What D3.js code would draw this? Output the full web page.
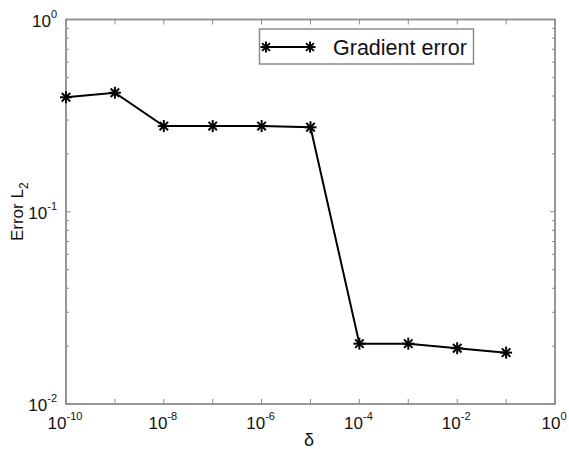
<!DOCTYPE html>
<html>
<head>
<meta charset="utf-8">
<script src="https://cdn.jsdelivr.net/npm/d3@7"></script>
<style>
	body { margin: 0; background: #fff; }
	text { font-family: "Liberation Sans", Arial, sans-serif; fill: #111; }
</style>
</head>
<body>
<svg width="569" height="449"></svg>
<script>
// values
const deltas = [1e-10, 1e-9, 1e-8, 1e-7, 1e-6, 1e-5, 1e-4, 1e-3, 1e-2, 1e-1];
const gradError = [0.394, 0.416, 0.279, 0.279, 0.279, 0.275, 0.0206, 0.0206, 0.0195, 0.0185];
const xTickExp = [-10, -8, -6, -4, -2, 0];
const yTickExp = [-2, -1, 0];
const seriesName = "Gradient error";

const svg = d3.select("svg");
const plotLeft = 66, plotRight = 555, plotTop = 19.5, plotBottom = 404;
const axisColor = "#8c8c8c";

const x = d3.scaleLog().domain([1e-10, 1]).range([plotLeft, plotRight]);
const y = d3.scaleLog().domain([1e-2, 1]).range([plotBottom, plotTop]);

// box
svg.append("rect")
	.attr("x", plotLeft)
	.attr("y", plotTop)
	.attr("width", plotRight - plotLeft)
	.attr("height", plotBottom - plotTop)
	.attr("fill", "none")
	.attr("stroke", axisColor)
	.attr("stroke-width", 1.8);

// x ticks, every decade, inward at top and bottom
const xDecades = d3.range(-10, 1).map((e) => Math.pow(10, e));
svg.append("g")
	.selectAll("line")
	.data(xDecades)
	.join("line")
	.attr("x1", (d) => x(d))
	.attr("x2", (d) => x(d))
	.attr("y1", plotBottom)
	.attr("y2", plotBottom - 5)
	.attr("stroke", axisColor);
svg.append("g")
	.selectAll("line")
	.data(xDecades)
	.join("line")
	.attr("x1", (d) => x(d))
	.attr("x2", (d) => x(d))
	.attr("y1", plotTop)
	.attr("y2", plotTop + 5)
	.attr("stroke", axisColor);

// y ticks incl. minor ones
const yTicks = y.ticks();
const isMajor = (d) => Math.abs(Math.log10(d) - Math.round(Math.log10(d))) < 1e-9;
svg.append("g")
	.selectAll("line")
	.data(yTicks)
	.join("line")
	.attr("x1", plotLeft)
	.attr("x2", (d) => plotLeft + (isMajor(d) ? 5 : 3))
	.attr("y1", (d) => y(d))
	.attr("y2", (d) => y(d))
	.attr("stroke", axisColor);
svg.append("g")
	.selectAll("line")
	.data(yTicks)
	.join("line")
	.attr("x1", plotRight)
	.attr("x2", (d) => plotRight - (isMajor(d) ? 5 : 3))
	.attr("y1", (d) => y(d))
	.attr("y2", (d) => y(d))
	.attr("stroke", axisColor);

// tick labels with superscripts
function powLabel(g, e) {
	g.append("tspan").text("10");
	g.append("tspan")
		.attr("dy", -9)
		.attr("font-size", 11)
		.text(e);
}

svg.append("g")
	.selectAll("text")
	.data(xTickExp)
	.join("text")
	.attr("x", (d) => x(Math.pow(10, d)) - 1)
	.attr("y", 429)
	.attr("font-size", 17)
	.attr("text-anchor", "middle")
	.each(function (d) {
		powLabel(d3.select(this), d);
	});

svg.append("g")
	.selectAll("text")
	.data(yTickExp)
	.join("text")
	.attr("x", 57)
	.attr("y", (d) => y(Math.pow(10, d)) + 7)
	.attr("font-size", 17)
	.attr("text-anchor", "end")
	.each(function (d) {
		powLabel(d3.select(this), d);
	});

// axis titles
svg.append("text")
	.attr("x", 309)
	.attr("y", 446)
	.attr("font-size", 18)
	.attr("font-family", "DejaVu Serif, serif")
	.attr("text-anchor", "middle")
	.text("\u03b4");

const yl = svg.append("text")
	.attr("transform", "translate(23," + (plotBottom + plotTop) / 2 + ") rotate(-90)")
	.attr("font-size", 17)
	.attr("text-anchor", "middle");
yl.append("tspan").text("Error L");
yl.append("tspan").attr("dy", 5).attr("font-size", 12).text("2");

// series
const pts = deltas.map((d, i) => [d, gradError[i]]);
svg.append("path")
	.datum(pts)
	.attr("fill", "none")
	.attr("stroke", "#000")
	.attr("stroke-width", 2)
	.attr("d", d3.line().x((d) => x(d[0])).y((d) => y(d[1])));

function star(g, cx, cy, r) {
	[0, 45, 90, 135].forEach((a) => {
		const rad = (a * Math.PI) / 180;
		g.append("line")
			.attr("x1", cx - r * Math.cos(rad))
			.attr("y1", cy - r * Math.sin(rad))
			.attr("x2", cx + r * Math.cos(rad))
			.attr("y2", cy + r * Math.sin(rad))
			.attr("stroke", "#000")
			.attr("stroke-width", 2);
	});
}
const marks = svg.append("g");
pts.forEach((d) => star(marks, x(d[0]), y(d[1]), 6));

// legend
const lg = svg.append("g");
lg.append("rect")
	.attr("x", 259.5)
	.attr("y", 29)
	.attr("width", 214)
	.attr("height", 35)
	.attr("fill", "#fff")
	.attr("stroke", axisColor)
	.attr("stroke-width", 1.5);
lg.append("line")
	.attr("x1", 266)
	.attr("x2", 310)
	.attr("y1", 47)
	.attr("y2", 47)
	.attr("stroke", "#000")
	.attr("stroke-width", 2);
star(lg, 266, 47, 5.5);
star(lg, 310, 47, 5.5);
lg.append("text")
	.attr("x", 333)
	.attr("y", 55)
	.attr("font-size", 21.5)
	.text(seriesName);
</script>
</body>
</html>
